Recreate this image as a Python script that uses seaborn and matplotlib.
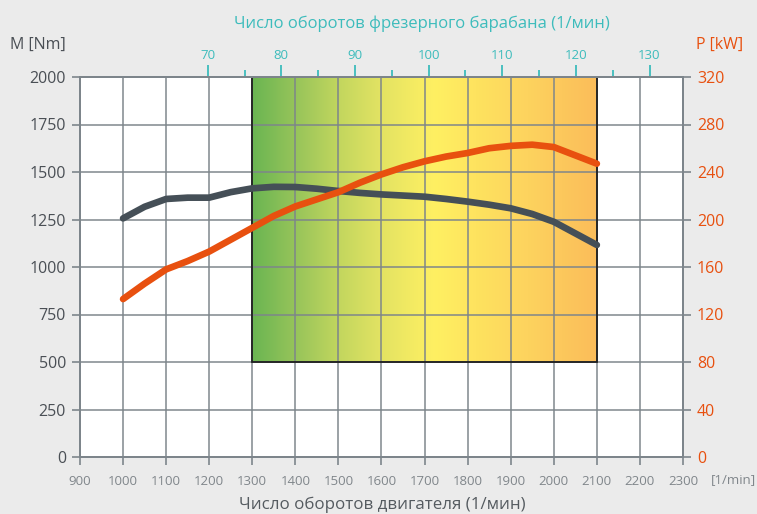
import numpy as np
import pandas as pd
import matplotlib
matplotlib.use("Agg")
import matplotlib.pyplot as plt
from matplotlib.colors import LinearSegmentedColormap
from matplotlib.patches import Rectangle
import seaborn as sns

# Engine speed (1/min)
rpm = [1000, 1050, 1100, 1150, 1200, 1250, 1300, 1350, 1400, 1450, 1500, 1550,
       1600, 1650, 1700, 1750, 1800, 1850, 1900, 1950, 2000, 2050, 2100]
# Torque M [Nm]
torque = [1256, 1317, 1358, 1365, 1365, 1394, 1414, 1422, 1421, 1412, 1400, 1390,
          1382, 1376, 1370, 1358, 1344, 1328, 1309, 1279, 1238, 1177, 1116]
# Power P [kW]
power = [133, 146, 158, 165, 173, 183, 193, 203, 211, 217, 223, 231,
         238, 244, 249, 253, 256, 260, 262, 263, 261, 254, 247]

x_ticks = list(range(900, 2301, 100))
m_ticks = list(range(0, 2001, 250))
p_ticks = list(range(0, 321, 40))
drum_ticks = [70, 80, 90, 100, 110, 120, 130]
drum_minor = [75, 85, 95, 105, 115, 125]
drum_ratio = 0.0585  # drum speed per engine speed

# Working range band
band_x = (1300, 2100)
band_y = (500, 2000)

sns.set_theme(style="white")
plt.rcParams["font.family"] = ["Open Sans", "DejaVu Sans"]

BG = "#ebebeb"
GRID = "#7d858b"
TEAL = "#3dbcbc"
ORANGE = "#e8500f"
DARK = "#454f57"

fig = plt.figure(figsize=(7.57, 5.14), dpi=100, facecolor=BG)
ax = fig.add_axes([80 / 757, 1 - 457 / 514, 603 / 757, 380 / 514])
ax.set_facecolor("white")

df = pd.DataFrame({"rpm": rpm, "M": torque, "P": power})

ax.set_xlim(900, 2300)
ax.set_ylim(0, 2000)

# gradient band
cmap = LinearSegmentedColormap.from_list(
    "band",
    [(0.0, "#6ab552"), (0.125, "#97c45a"), (0.25, "#c2d65e"), (0.375, "#e3e363"),
     (0.53, "#fff062"), (0.65, "#fee35f"), (0.8, "#fdd35e"), (1.0, "#fbbd5a")])
grad = np.linspace(0, 1, 256).reshape(1, -1)
ax.imshow(grad, cmap=cmap, aspect="auto", extent=[band_x[0], band_x[1], band_y[0], band_y[1]],
          zorder=0.2, interpolation="bilinear")
ax.add_patch(Rectangle((band_x[0], band_y[0]), band_x[1] - band_x[0], band_y[1] - band_y[0],
                       fill=False, edgecolor="#1e1e1e", linewidth=1.3, zorder=0.6))

ax.set_xticks(x_ticks)
ax.set_yticks(m_ticks)
ax.grid(True, color=GRID, linewidth=1.2, alpha=0.9)
ax.set_axisbelow(True)

sns.lineplot(data=df, x="rpm", y="M", ax=ax, color=DARK, linewidth=4.8,
             solid_capstyle="round", solid_joinstyle="round", zorder=3)

for s in ax.spines.values():
    s.set_color(GRID)
    s.set_linewidth(1.3)

ax.tick_params(axis="x", colors=GRID, length=6, width=1.2, direction="out", bottom=True,
               labelsize=9.5, labelcolor="#80868b", pad=7)
ax.tick_params(axis="y", colors=GRID, length=6, width=1.2, direction="out", left=True,
               labelsize=11.5, labelcolor="#4a4f55", pad=4)
ax.set_xlabel("")
ax.set_ylabel("")
fig.text(382 / 757, 1 - 505 / 514, "Число оборотов двигателя (1/мин)", fontsize=12.2,
         color="#555b60", ha="center", va="center")

# power axis
ax2 = ax.twinx()
ax2.set_ylim(0, 320)
sns.lineplot(data=df, x="rpm", y="P", ax=ax2, color=ORANGE, linewidth=4.8,
             solid_capstyle="round", solid_joinstyle="round", zorder=3)
ax2.set_yticks(p_ticks)
ax2.set_ylabel("")
ax2.grid(False)
for s in ax2.spines.values():
    s.set_color(GRID)
    s.set_linewidth(1.3)
ax2.tick_params(axis="y", colors=GRID, length=6, width=1.2, direction="out", right=True,
                labelsize=11.5, labelcolor=ORANGE, pad=4)

# drum speed axis
top = ax.secondary_xaxis("top", functions=(lambda x: x * drum_ratio, lambda x: x / drum_ratio))
top.set_xticks(drum_ticks)
top.set_xticks(drum_minor, minor=True)
top.tick_params(axis="x", which="major", colors=TEAL, length=9, width=1.3, labelsize=9.5,
                labelcolor=TEAL, pad=2)
top.tick_params(axis="x", which="minor", colors=TEAL, length=5, width=1.3)
top.spines["top"].set_visible(False)
fig.text(422 / 757, 1 - 24 / 514, "Число оборотов фрезерного барабана (1/мин)", fontsize=12,
         color=TEAL, ha="center", va="center")

fig.text(66 / 757, 1 - 45 / 514, "M [Nm]", fontsize=11.5, color="#4a4f55", va="center", ha="right")
fig.text(696 / 757, 1 - 45 / 514, "P [kW]", fontsize=11.5, color=ORANGE, va="center", ha="left")
fig.text(711 / 757, 1 - 480 / 514, "[1/min]", fontsize=9.5, color="#80868b", va="center", ha="left")

fig.savefig("out.png", dpi=100, facecolor=BG)
